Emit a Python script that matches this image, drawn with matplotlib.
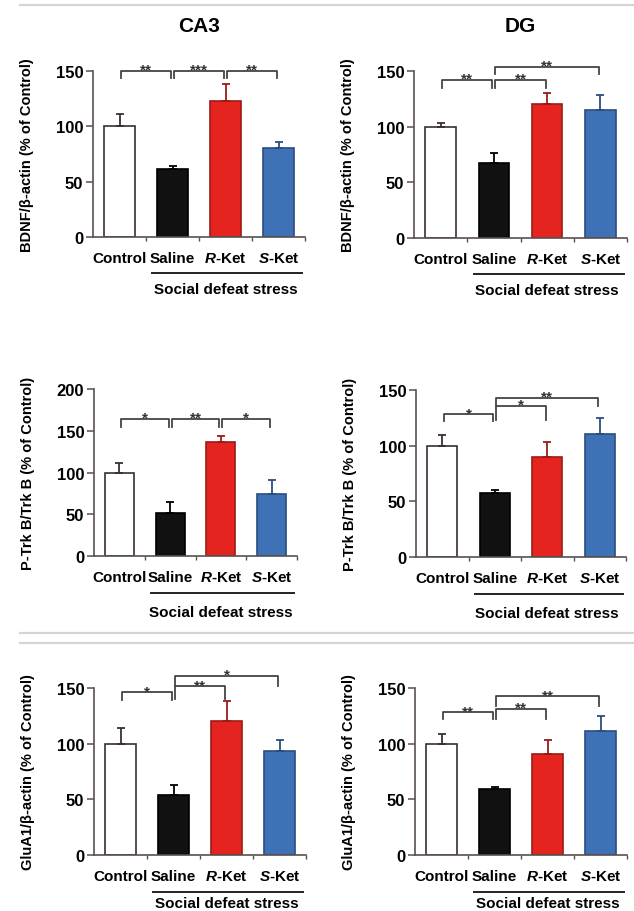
import matplotlib
matplotlib.use('Agg')
import matplotlib.pyplot as plt
from matplotlib.lines import Line2D
from matplotlib.transforms import offset_copy

plt.rcParams['font.family'] = ['Liberation Sans', 'DejaVu Sans']
plt.rcParams['font.weight'] = 'bold'
plt.rcParams['axes.labelweight'] = 'bold'
plt.rcParams['mathtext.fontset'] = 'custom'
plt.rcParams['mathtext.rm'] = 'Liberation Sans:bold'
plt.rcParams['mathtext.it'] = 'Liberation Sans:italic:bold'

# Data
groups = ['Control', 'Saline', r'$\mathit{R}$-Ket', r'$\mathit{S}$-Ket']

ca3_bdnf = [100, 61, 123, 80]
ca3_bdnf_err = [11, 3.5, 15, 6]
dg_bdnf = [100, 67, 120, 115]
dg_bdnf_err = [3, 9, 10, 13]

ca3_ptrkb = [100, 51, 137, 74]
ca3_ptrkb_err = [11, 14, 7, 17]
dg_ptrkb = [100, 57.5, 90, 110.5]
dg_ptrkb_err = [9.5, 2.5, 13, 14]

ca3_glua1 = [100, 54, 120, 93]
ca3_glua1_err = [14, 9, 18, 10]
dg_glua1 = [100, 59, 91, 111]
dg_glua1_err = [9, 2, 12, 14]

# significance brackets: (from, to, height, drop, label)
ca3_bdnf_sig = [(0, 1, 150, 6, '**'), (1, 2, 150, 6, '***'), (2, 3, 150, 6, '**')]
dg_bdnf_sig = [(0, 1, 142, 7, '**'), (1, 2, 142, 7, '**'), (1, 3, 154, 7, '**')]
ca3_ptrkb_sig = [(0, 1, 164, 9, '*'), (1, 2, 164, 9, '**'), (2, 3, 164, 9, '*')]
dg_ptrkb_sig = [(0, 1, 128, 6, '*'), (1, 2, 136, 13, '*'), (1, 3, 143, 7, '**')]
ca3_glua1_sig = [(0, 1, 146, 6.5, '*'), (1, 2, 151.5, 11, '**'), (1, 3, 161, 9.5, '*')]
dg_glua1_sig = [(0, 1, 128, 6, '**'), (1, 2, 131, 9, '**'), (1, 3, 142.5, 8.5, '**')]

bdnf_label = 'BDNF/β-actin (% of Control)'
ptrkb_label = 'P-Trk B/Trk B (% of Control)'
glua1_label = 'GluA1/β-actin (% of Control)'

face = ['white', '#111111', '#e5231f', '#3f71b6']
edge = ['#3a3030', '#000000', '#9c1a16', '#2a4d80']

W, H = 634, 912
fig = plt.figure(figsize=(W / 100, H / 100), dpi=100)

# (left, right, top, bottom) in pixels, values, errors, brackets, ymax, label, line/text offsets
panels = [
    ((93, 305, 72, 238), ca3_bdnf, ca3_bdnf_err, ca3_bdnf_sig, 150, bdnf_label, 36, 52),
    ((414, 627, 72, 239), dg_bdnf, dg_bdnf_err, dg_bdnf_sig, 150, bdnf_label, 36, 52),
    ((94, 297, 390, 557), ca3_ptrkb, ca3_ptrkb_err, ca3_ptrkb_sig, 200, ptrkb_label, 37, 56),
    ((416, 626, 391, 558), dg_ptrkb, dg_ptrkb_err, dg_ptrkb_sig, 150, ptrkb_label, 37, 56),
    ((94, 306, 689, 856), ca3_glua1, ca3_glua1_err, ca3_glua1_sig, 150, glua1_label, 37, 48),
    ((415, 627, 689, 856), dg_glua1, dg_glua1_err, dg_glua1_sig, 150, glua1_label, 37, 48),
]

axes = []
for (l, r, t, b), vals, errs, sig, ymax, ylab, line_off, text_off in panels:
    ax = fig.add_axes([l / W, 1 - b / H, (r - l) / W, (b - t) / H])
    axes.append(ax)
    x = range(len(groups))
    ax.bar(x, vals, width=0.57, color=face, edgecolor=edge, linewidth=1.2, zorder=2)
    for xi, v, e, c in zip(x, vals, errs, edge):
        ax.errorbar(xi, v, yerr=[[0], [e]], fmt='none', ecolor=c,
                    elinewidth=1.3, capsize=3, capthick=1.3, zorder=3)

    for i, j, y, d, lab in sig:
        xa, xb = i + 0.03, j - 0.03
        ax.plot([xa, xa, xb, xb], [y - d, y, y, y - d], color='#444444',
                lw=1.3, clip_on=False, zorder=4)
        ax.annotate(lab, ((xa + xb) / 2, y), xytext=(0, -2), textcoords='offset points',
                    ha='center', va='baseline', fontsize=11, color='#333333',
                    annotation_clip=False)

    ax.set_xlim(-0.5, 3.5)
    ax.set_ylim(0, ymax)
    ax.set_yticks(range(0, ymax + 1, 50))
    ax.set_xticks(list(x))
    ax.set_xticklabels(groups)
    ax.set_xticks([0.5, 1.5, 2.5, 3.5], minor=True)
    ax.tick_params(axis='x', which='major', length=0, pad=10, labelsize=11)
    ax.tick_params(axis='x', which='minor', length=3, width=1, color='#5a5050')
    ax.tick_params(axis='y', length=5, width=1.1, color='#5a5050', pad=2, labelsize=12)
    for s in ['top', 'right']:
        ax.spines[s].set_visible(False)
    for s in ['left', 'bottom']:
        ax.spines[s].set_color('#5a5050')
        ax.spines[s].set_linewidth(1.2)

    ax.set_ylabel(ylab, fontsize=10.5, fontweight='bold')
    ax.yaxis.set_label_coords(0, 0.5, transform=offset_copy(ax.transAxes, fig, x=-59, y=0, units='dots'))

    # "Social defeat stress" group line
    tr_line = offset_copy(ax.get_xaxis_transform(), fig, x=0, y=-line_off, units='dots')
    ax.plot([0.62, 3.44], [0, 0], color='#222222', lw=1.4, transform=tr_line, clip_on=False)
    tr_text = offset_copy(ax.get_xaxis_transform(), fig, x=0, y=-text_off, units='dots')
    ax.text(2.0, 0, 'Social defeat stress', transform=tr_text, ha='center', va='center',
            fontsize=11, clip_on=False)

# column titles
for ax, title in zip(axes[:2], ['CA3', 'DG']):
    pos = ax.get_position()
    fig.text((pos.x0 + pos.x1) / 2, 1 - 26 / H, title, ha='center', va='center',
             fontsize=15, fontweight='bold')

# light gray frame lines
for ypx in [6, 634, 644]:
    fig.add_artist(Line2D([20 / W, 1], [1 - ypx / H, 1 - ypx / H], color='#d8d3d3',
                          lw=1.6, transform=fig.transFigure))

fig.savefig('out.png', dpi=100)
